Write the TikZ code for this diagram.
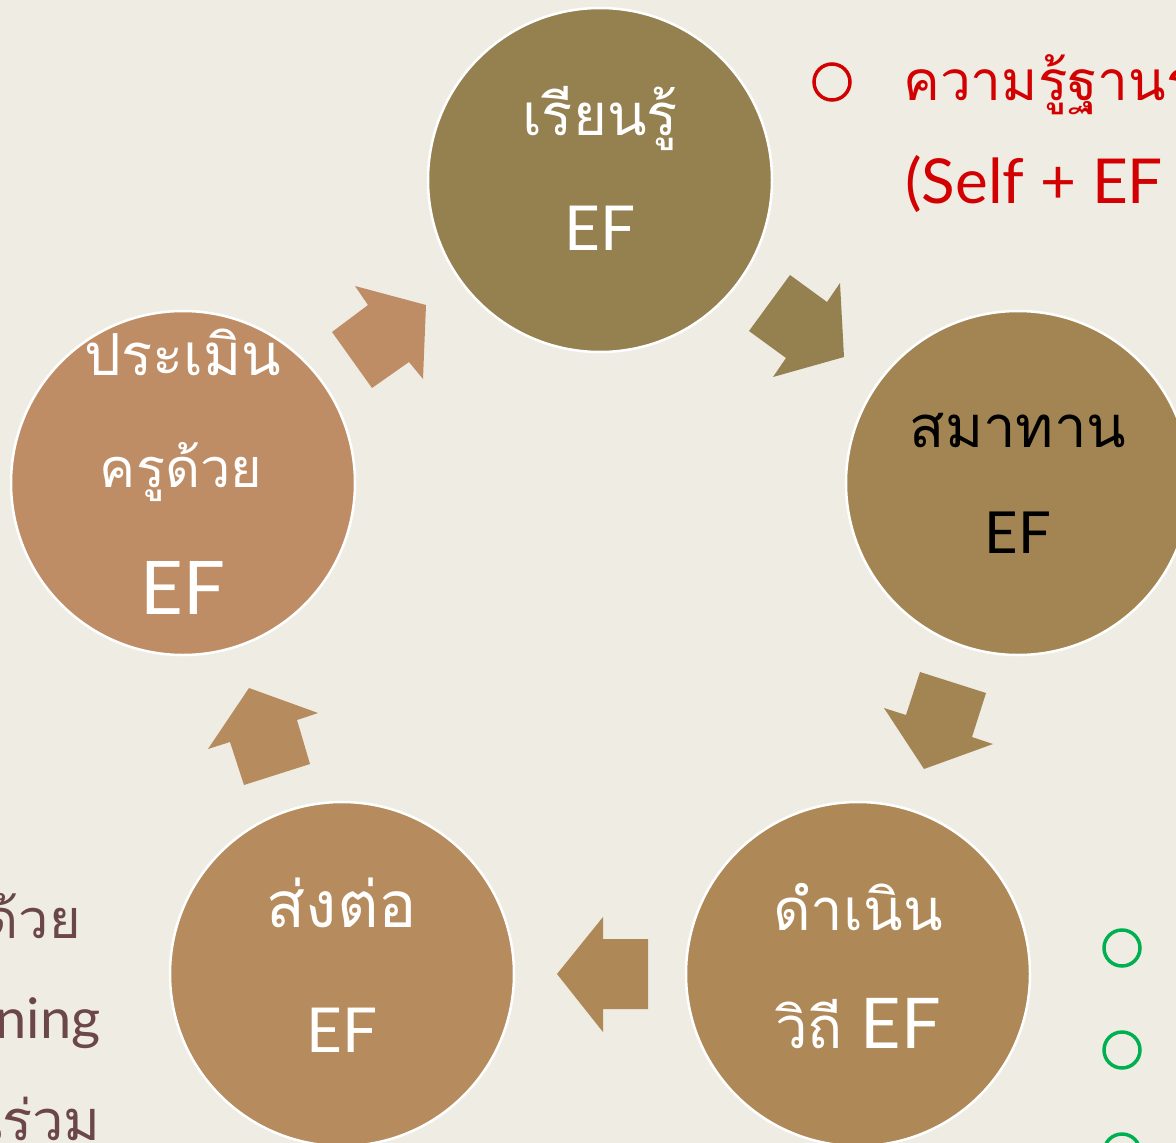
\documentclass[tikz,border=0pt]{standalone}
\usepackage{fontspec}
\setmainfont{Lato}
\newfontfamily\thf[Script=Thai]{Loma}
\definecolor{bgc}{HTML}{EFECE4}
\definecolor{cone}{HTML}{958050}
\definecolor{ctwo}{HTML}{A38553}
\definecolor{cthree}{HTML}{AE8856}
\definecolor{cfour}{HTML}{B68B5D}
\definecolor{cfive}{HTML}{BF8D65}
\definecolor{redt}{HTML}{D20000}
\definecolor{greenb}{HTML}{00B050}
\definecolor{leftt}{HTML}{6B4747}
\begin{document}
\begin{tikzpicture}[x=1pt,y=-1pt,
  stage/.style={circle,minimum size=344pt,inner sep=0pt,draw=white,line width=2.5pt},
  lbl/.style={anchor=base,inner sep=0pt,text=white},
  thsize/.style={font=\thf\fontsize{58}{58}\selectfont},
  efsize/.style={font=\fontsize{62}{62}\selectfont},
  bullet/.style={circle,minimum size=36pt,inner sep=0pt,line width=3.5pt}]
\useasboundingbox (0,0) rectangle (1176,1143);
\clip (0,0) rectangle (1176,1143);
\fill[bgc] (0,0) rectangle (1176,1143);

% stages
\node[stage,fill=cone]   (s1) at (600,180) {};
\node[stage,fill=ctwo]   (s2) at (1018,483) {};
\node[stage,fill=cthree] (s3) at (858,974) {};
\node[stage,fill=cfour]  (s4) at (342,974) {};
\node[stage,fill=cfive]  (s5) at (183,483) {};

% block arrows
\fill[cfive]  (332,332) -- (368,305) -- (355,286) -- (426,305) -- (423,379) -- (409,362) -- (372,388) -- cycle;
\fill[cone]   (749,331) -- (790,275) -- (827,302) -- (840,283) -- (844,357) -- (773,377) -- (786,358) -- cycle;
\fill[ctwo]   (920,672) -- (986,693) -- (972,737) -- (993,744) -- (924,769) -- (884,708) -- (906,715) -- cycle;
\fill[cthree] (648,939) -- (648,1009) -- (603,1009) -- (603,1032) -- (557,974) -- (603,917) -- (603,939) -- cycle;
\fill[cfour]  (310,764) -- (244,785) -- (230,742) -- (208,749) -- (249,688) -- (318,713) -- (297,720) -- cycle;

% texts in stages
\node[lbl,thsize] (t1a) at (600,135) {เรียนรู้};
\node[lbl,efsize] (t1b) at (600,250) {EF};
\node[lbl,thsize,text=black] (t2a) at (1018,447) {สมาทาน};
\node[lbl,text=black,font=\fontsize{58}{58}\selectfont] (t2b) at (1018,553) {EF};
\node[lbl,thsize] (t3a) at (858,930) {ดำเนิน};
\node[lbl,font=\fontsize{70}{70}\selectfont] (t3b) at (858,1048) {{\thf\fontsize{58}{58}\selectfont วิถี} EF};
\node[lbl,font=\thf\fontsize{64}{64}\selectfont] (t4a) at (342,927) {ส่งต่อ};
\node[lbl,efsize] (t4b) at (342,1052) {EF};
\node[lbl,thsize] (t5a) at (183,375) {ประเมิน};
\node[lbl,font=\thf\fontsize{54}{54}\selectfont] (t5b) at (181,487) {ครูด้วย};
\node[lbl,font=\fontsize{74}{74}\selectfont] (t5c) at (183,614) {EF};

% left partial text
\node[anchor=base east,inner sep=0pt,text=leftt,font=\thf\fontsize{54}{54}\selectfont] (l1) at (81,938) {ด้วย};
\node[anchor=base east,inner sep=0pt,text=leftt,font=\fontsize{56}{56}\selectfont] (l2) at (101,1038) {ning};
\node[anchor=base east,inner sep=0pt,text=leftt,font=\thf\fontsize{56}{56}\selectfont] (l3) at (101,1140) {นร่วม};

% right top red text
\node[bullet,draw=redt] (rb) at (832,82) {};
\node[anchor=base west,inner sep=0pt,text=redt,font=\thf\fontsize{55}{55}\selectfont] (r1) at (903,100) {ความรู้ฐานร};
\node[anchor=base west,inner sep=0pt,text=redt,font=\fontsize{62}{62}\selectfont] (r2) at (905,203) {(Self + EF};

% green bullets
\node[bullet,draw=greenb] (g1) at (1122,948) {};
\node[bullet,draw=greenb] (g2) at (1122,1050) {};
\node[bullet,draw=greenb] (g3) at (1122,1152) {};
\end{tikzpicture}
\end{document}
